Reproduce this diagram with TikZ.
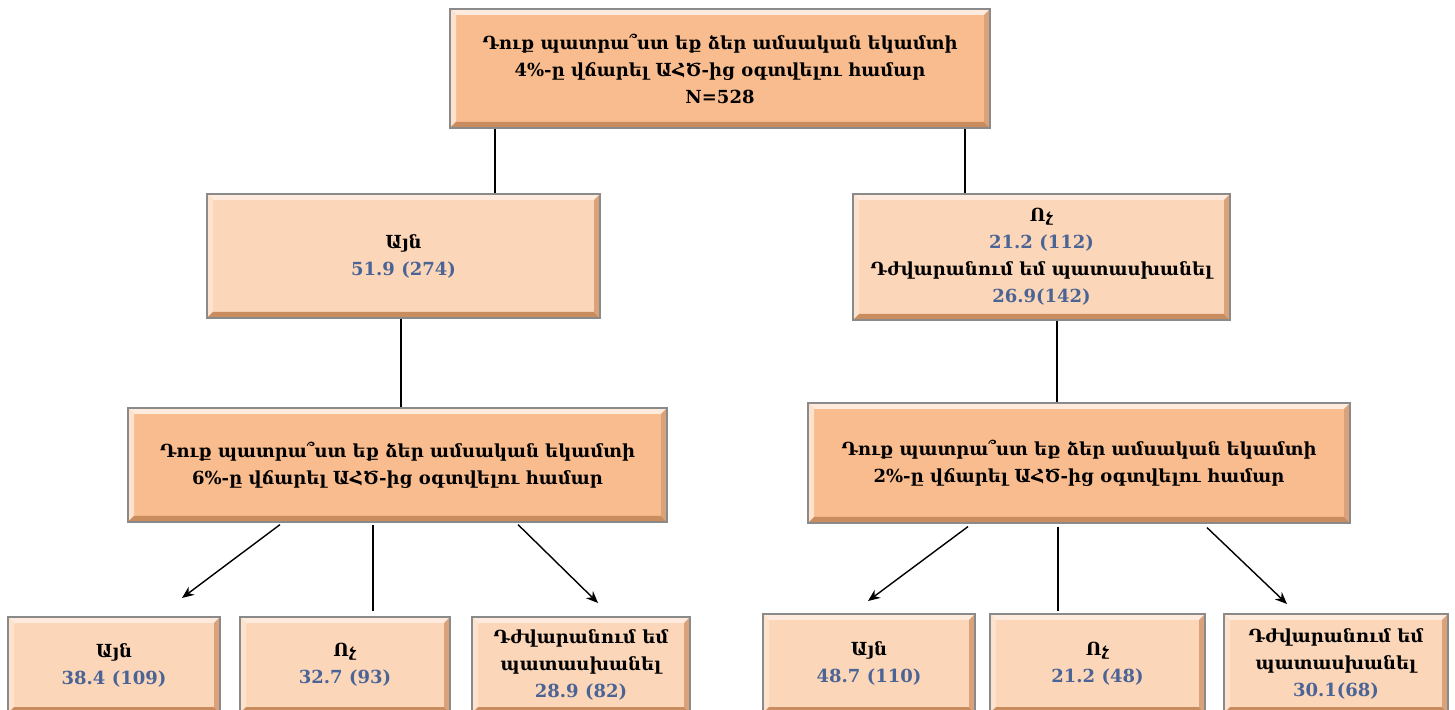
\documentclass[tikz,border=0pt]{standalone}
\usepackage{fontspec}
\setmainfont{DejaVu Serif}
\usetikzlibrary{calc,arrows.meta}
\definecolor{darkfill}{HTML}{F9BC8E}
\definecolor{lightfill}{HTML}{FCD6B8}
\definecolor{numblue}{HTML}{4A6496}
\definecolor{hilite}{HTML}{FEEBDD}
\definecolor{shadeD}{HTML}{C98C5E}
\definecolor{shadeR}{HTML}{D9A27A}
\definecolor{rim}{HTML}{8A8A8A}
\tikzset{
 bev/.style={path picture={
   \coordinate (@sw) at (path picture bounding box.south west);
   \coordinate (@ne) at (path picture bounding box.north east);
   \coordinate (@nw) at (@sw |- @ne);
   \coordinate (@se) at (@ne |- @sw);
   \fill[hilite] (@nw) -- (@ne) -- ($(@ne)+(-6pt,-6pt)$) -- ($(@nw)+(6pt,-6pt)$) -- cycle;
   \fill[hilite!60!lightfill] (@nw) -- ($(@nw)+(6pt,-6pt)$) -- ($(@sw)+(6pt,6pt)$) -- (@sw) -- cycle;
   \fill[shadeD] (@sw) -- (@se) -- ($(@se)+(-6pt,6pt)$) -- ($(@sw)+(6pt,6pt)$) -- cycle;
   \fill[shadeR] (@se) -- (@ne) -- ($(@ne)+(-6pt,-6pt)$) -- ($(@se)+(-6pt,6pt)$) -- cycle;
 }},
 box/.style={draw=rim, line width=1.2pt, bev, align=center, inner sep=0pt,
   font=\bfseries\fontsize{18}{27}\selectfont},
 qbox/.style={box, fill=darkfill},
 abox/.style={box, fill=lightfill},
 conn/.style={line width=1.4pt},
 arr/.style={conn, -{Stealth[length=12pt,width=10pt]}}
}
\newcommand{\nb}[1]{\textcolor{numblue}{#1}}
\begin{document}
\begin{tikzpicture}[x=1pt,y=1pt]
\useasboundingbox[fill=white] (0,0) rectangle (1455,709);
\node[qbox, minimum width=540pt, minimum height=119pt] (top) at (720,640.5)
  {Դուք պատրա՞ստ եք ձեր ամսական եկամտի\\4\%-ը վճարել ԱՀԾ-ից օգտվելու համար\\N=528};
\node[abox, minimum width=393pt, minimum height=124pt] (yes) at (403.5,453)
  {Այն\\\nb{51.9 (274)}};
\node[abox, minimum width=377pt, minimum height=126pt] (no) at (1041.5,452)
  {Ոչ\\\nb{21.2 (112)}\\Դժվարանում եմ պատասխանել\\\nb{26.9(142)}};
\node[qbox, minimum width=539pt, minimum height=114pt] (lq) at (397.5,244)
  {Դուք պատրա՞ստ եք ձեր ամսական եկամտի\\6\%-ը վճարել ԱՀԾ-ից օգտվելու համար};
\node[qbox, minimum width=542pt, minimum height=120pt] (rq) at (1079,246)
  {Դուք պատրա՞ստ եք ձեր ամսական եկամտի\\2\%-ը վճարել ԱՀԾ-ից օգտվելու համար};
\node[abox, minimum width=212pt, minimum height=96pt] (l1) at (114,44) {Այն\\\nb{38.4 (109)}};
\node[abox, minimum width=210pt, minimum height=96pt] (l2) at (345,44) {Ոչ\\\nb{32.7 (93)}};
\node[abox, minimum width=218pt, minimum height=96pt] (l3) at (581,44) {Դժվարանում եմ\\պատասխանել\\\nb{28.9 (82)}};
\node[abox, minimum width=212pt, minimum height=99pt] (r1) at (869,45.5) {Այն\\\nb{48.7 (110)}};
\node[abox, minimum width=215pt, minimum height=99pt] (r2) at (1097.5,45.5) {Ոչ\\\nb{21.2 (48)}};
\node[abox, minimum width=224pt, minimum height=99pt] (r3) at (1336,45.5) {Դժվարանում եմ\\պատասխանել\\\nb{30.1(68)}};
\coordinate (x1) at (495,0);
\coordinate (x2) at (965,0);
\coordinate (x3) at (401,0);
\coordinate (x4) at (1057,0);
\coordinate (x5) at (373,0);
\coordinate (x6) at (1058,0);
\coordinate (a1s) at (280,0);
\coordinate (a2s) at (518,0);
\coordinate (a3s) at (968,0);
\coordinate (a4s) at (1207,0);
\coordinate (a1e) at (182,111);
\coordinate (a2e) at (598,106);
\coordinate (a3e) at (868,108);
\coordinate (a4e) at (1287,105);
\draw[conn] (top.south -| x1) -- (yes.north -| x1);
\draw[conn] (top.south -| x2) -- (no.north -| x2);
\draw[conn] (yes.south -| x3) -- (lq.north -| x3);
\draw[conn] (no.south -| x4) -- (rq.north -| x4);
\draw[arr] ([yshift=-2pt]lq.south -| a1s) -- (a1e);
\draw[conn, shorten >=5pt, shorten <=2pt] (lq.south -| x5) -- (l2.north -| x5);
\draw[arr] ([yshift=-2pt]lq.south -| a2s) -- (a2e);
\draw[arr] ([yshift=-3pt]rq.south -| a3s) -- (a3e);
\draw[conn, shorten >=2pt, shorten <=3pt] (rq.south -| x6) -- (r2.north -| x6);
\draw[arr] ([yshift=-4pt]rq.south -| a4s) -- (a4e);
\end{tikzpicture}
\end{document}
